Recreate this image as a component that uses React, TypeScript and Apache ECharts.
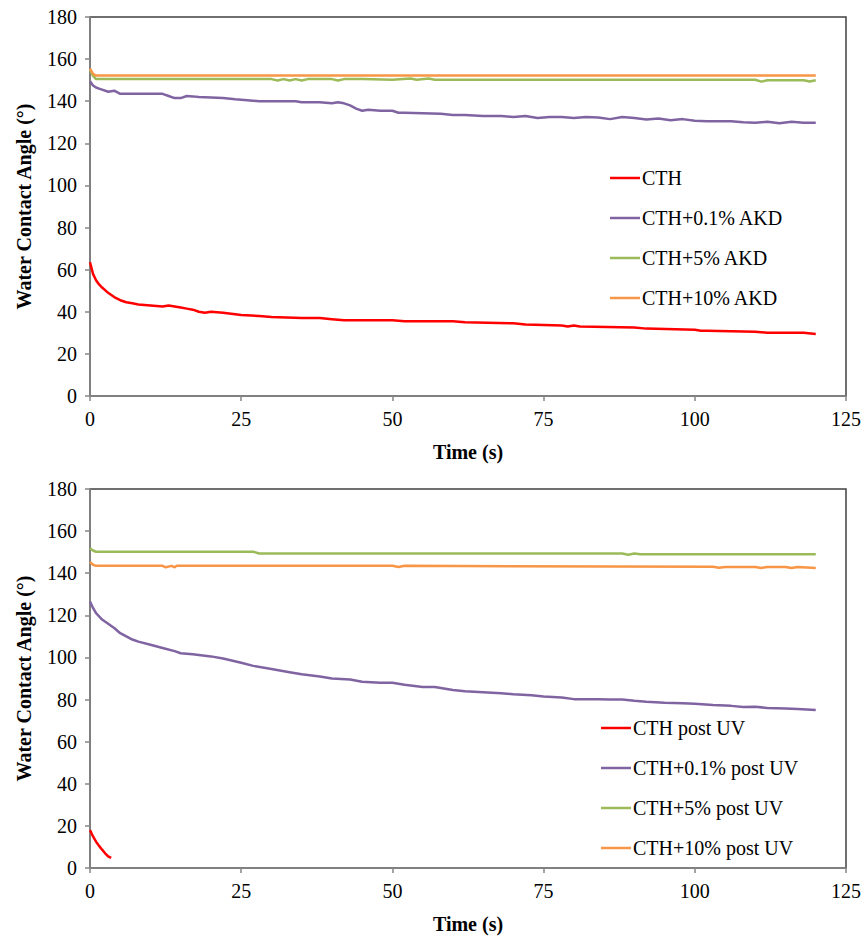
import React, { useEffect, useRef } from "react";
import * as echarts from "echarts";

// ---------- Top chart data ----------
const topNames = ["CTH", "CTH+0.1% AKD", "CTH+5% AKD", "CTH+10% AKD"];

const cthTime = [0, 0.5, 1, 1.5, 2, 3, 4, 5, 6, 7, 8, 10, 12, 13, 14, 15, 16, 17, 18, 19, 20, 22, 25, 28, 30, 35, 38, 40, 42, 50, 52, 60, 62, 70, 72, 78, 79, 80, 81, 90, 92, 100, 101, 102, 110, 112, 118, 120];
const cthVal = [63.5, 58, 55, 53, 51.5, 49, 47, 45.5, 44.5, 44, 43.5, 43, 42.5, 43, 42.5, 42, 41.5, 41, 40, 39.5, 40, 39.5, 38.5, 38, 37.5, 37, 37, 36.5, 36, 36, 35.5, 35.5, 35, 34.5, 34, 33.5, 33, 33.5, 33, 32.5, 32, 31.5, 31, 31, 30.5, 30, 30, 29.5];

const akd01Time = [0, 0.5, 1, 1.5, 2, 3, 4, 5, 6, 8, 10, 12, 13, 14, 15, 16, 17, 18, 20, 22, 24, 26, 28, 30, 34, 35, 38, 40, 41, 42, 43, 44, 45, 46, 48, 50, 51, 52, 55, 58, 60, 62, 65, 68, 70, 72, 74, 76, 78, 80, 82, 84, 86, 88, 90, 92, 94, 96, 98, 100, 102, 104, 106, 108, 110, 112, 114, 116, 118, 120];
const akd01Val = [149.5, 147.5, 146.5, 146, 145.5, 144.5, 145, 143.5, 143.5, 143.5, 143.5, 143.5, 142.5, 141.5, 141.5, 142.5, 142.3, 142, 141.8, 141.5, 140.9, 140.5, 140, 140, 140, 139.5, 139.5, 139, 139.5, 139, 138, 136.5, 135.5, 136, 135.5, 135.5, 134.5, 134.5, 134.3, 134, 133.5, 133.5, 133, 133, 132.5, 133, 132, 132.5, 132.5, 132, 132.5, 132.3, 131.5, 132.5, 132, 131.3, 131.8, 131, 131.5, 130.7, 130.5, 130.5, 130.5, 130, 129.8, 130.2, 129.5, 130.2, 129.8, 129.8];

const akd5Time = [0, 0.5, 1, 30, 31, 32, 33, 34, 35, 36, 40, 41, 42, 45, 50, 53, 54, 56, 57, 60, 110, 111, 112, 118, 119, 120];
const akd5Val = [155, 152, 150.5, 150.5, 149.8, 150.5, 149.8, 150.5, 149.8, 150.5, 150.5, 149.8, 150.5, 150.5, 150.2, 150.8, 150.2, 150.8, 150.2, 150.2, 150.2, 149.3, 150, 150, 149.4, 150];

const akd10Time = [0, 0.5, 1, 120];
const akd10Val = [155.5, 153, 152.2, 152.2];

// ---------- Bottom chart data ----------
const bottomNames = ["CTH post UV", "CTH+0.1% post UV", "CTH+5% post UV", "CTH+10% post UV"];

const uvCthTime = [0, 0.5, 1, 1.5, 2, 2.5, 3, 3.5];
const uvCthVal = [18, 15, 12.5, 10.5, 8.7, 7, 5.5, 4.8];

const uv01Time = [0, 0.5, 1, 1.5, 2, 3, 4, 5, 6, 7, 8, 10, 12, 14, 15, 17, 20, 22, 25, 27, 30, 33, 35, 38, 40, 43, 45, 48, 50, 52, 55, 57, 60, 62, 65, 68, 70, 73, 75, 78, 80, 84, 86, 88, 90, 92, 95, 98, 100, 103, 106, 108, 110, 112, 115, 117, 120];
const uv01Val = [126.5, 123.5, 121, 119.5, 118, 116, 114, 111.5, 110, 108.5, 107.5, 106, 104.5, 103, 102, 101.5, 100.5, 99.5, 97.5, 96, 94.5, 93, 92, 91, 90, 89.5, 88.5, 88, 88, 87, 86, 86, 84.5, 84, 83.5, 83, 82.5, 82, 81.5, 81, 80.2, 80.2, 80, 80, 79.4, 79, 78.5, 78.2, 78, 77.4, 77, 76.5, 76.6, 76, 75.8, 75.5, 75];

const uv5Time = [0, 0.5, 1, 27, 28, 88, 89, 90, 91, 92, 120];
const uv5Val = [151.8, 150.8, 150.2, 150.2, 149.4, 149.4, 148.8, 149.4, 149, 149, 149];

const uv10Time = [0, 0.5, 1, 12, 12.5, 13.5, 14, 14.3, 50, 51, 52, 103, 104, 105, 110, 111, 112, 115, 116, 117, 120];
const uv10Val = [145.4, 144, 143.5, 143.5, 142.8, 143.5, 142.8, 143.5, 143.5, 143, 143.5, 143.1, 142.6, 143, 143, 142.5, 143, 143, 142.5, 143, 142.5];

const xTicks = [0, 25, 50, 75, 100, 125];
const yTicks = [0, 20, 40, 60, 80, 100, 120, 140, 160, 180];

const colors = ["#FF0000", "#8064A2", "#9BBB59", "#F79646"];

const pair = (t: number[], v: number[]) => t.map((x, i) => [x, v[i]]);

const FONT = "'Liberation Serif', 'Times New Roman', serif";

export default function App() {
  const ref = useRef<HTMLDivElement>(null);

  useEffect(() => {
    if (!ref.current) return;
    const chart = echarts.init(ref.current, null, { renderer: "svg" });

    const axisGray = "#868686";
    const makeX = (gridIndex: number) => ({
      type: "value",
      gridIndex,
      min: xTicks[0],
      max: xTicks[xTicks.length - 1],
      interval: 25,
      name: "Time (s)",
      nameLocation: "middle",
      nameGap: 46,
      nameTextStyle: { fontFamily: FONT, fontSize: 20, fontWeight: "bold", color: "#000" },
      axisLine: { show: true, lineStyle: { color: axisGray, width: 1.5 } },
      axisTick: { show: true, length: 5, lineStyle: { color: axisGray, width: 1.5 } },
      axisLabel: { fontFamily: FONT, fontSize: 20, color: "#000", margin: 13 },
      splitLine: { show: false },
    });
    const makeY = (gridIndex: number) => ({
      type: "value",
      gridIndex,
      min: yTicks[0],
      max: yTicks[yTicks.length - 1],
      interval: 20,
      name: "Water Contact Angle (°)",
      nameLocation: "middle",
      nameGap: 56,
      nameTextStyle: { fontFamily: FONT, fontSize: 20, fontWeight: "bold", color: "#000" },
      axisLine: { show: true, lineStyle: { color: axisGray, width: 1.5 } },
      axisTick: { show: true, length: 5, lineStyle: { color: axisGray, width: 1.5 } },
      axisLabel: { fontFamily: FONT, fontSize: 20, color: "#000", margin: 13 },
      splitLine: { show: false },
    });

    const topData = [pair(cthTime, cthVal), pair(akd01Time, akd01Val), pair(akd5Time, akd5Val), pair(akd10Time, akd10Val)];
    const botData = [pair(uvCthTime, uvCthVal), pair(uv01Time, uv01Val), pair(uv5Time, uv5Val), pair(uv10Time, uv10Val)];

    const mkSeries = (names: string[], data: number[][][], idx: number) =>
      names.map((n, i) => ({
        type: "line",
        name: n,
        xAxisIndex: idx,
        yAxisIndex: idx,
        data: data[i],
        symbol: "none",
        showSymbol: false,
        lineStyle: { color: colors[i], width: 2.5 },
        itemStyle: { color: colors[i] },
        z: i === 0 ? 5 : 3,
      }));

    const legendBase = {
      orient: "vertical",
      icon: "rect",
      itemWidth: 30,
      itemHeight: 2.5,
      itemGap: 20,
      padding: 0,
      textStyle: { fontFamily: FONT, fontSize: 20, color: "#000", lineHeight: 20, padding: [0, 0, 0, -3] },
      selectedMode: false,
    };

    chart.setOption({
      animation: false,
      backgroundColor: "#fff",
      grid: [
        { left: 90, top: 17, width: 757, height: 379, show: true, borderColor: "#404040", borderWidth: 1.5, backgroundColor: "transparent" },
        { left: 90, top: 489, width: 757, height: 379, show: true, borderColor: "#404040", borderWidth: 1.5, backgroundColor: "transparent" },
      ],
      xAxis: [makeX(0), makeX(1)],
      yAxis: [makeY(0), makeY(1)],
      legend: [
        { ...legendBase, data: topNames, left: 610, top: 168 },
        { ...legendBase, data: bottomNames, left: 601, top: 718 },
      ],
      series: [...mkSeries(topNames, topData, 0), ...mkSeries(bottomNames, botData, 1)],
    });

    return () => chart.dispose();
  }, []);

  return (
    <div
      ref={ref}
      style={{ position: "absolute", left: 0, top: 0, width: 864, height: 939, background: "#fff" }}
    />
  );
}
